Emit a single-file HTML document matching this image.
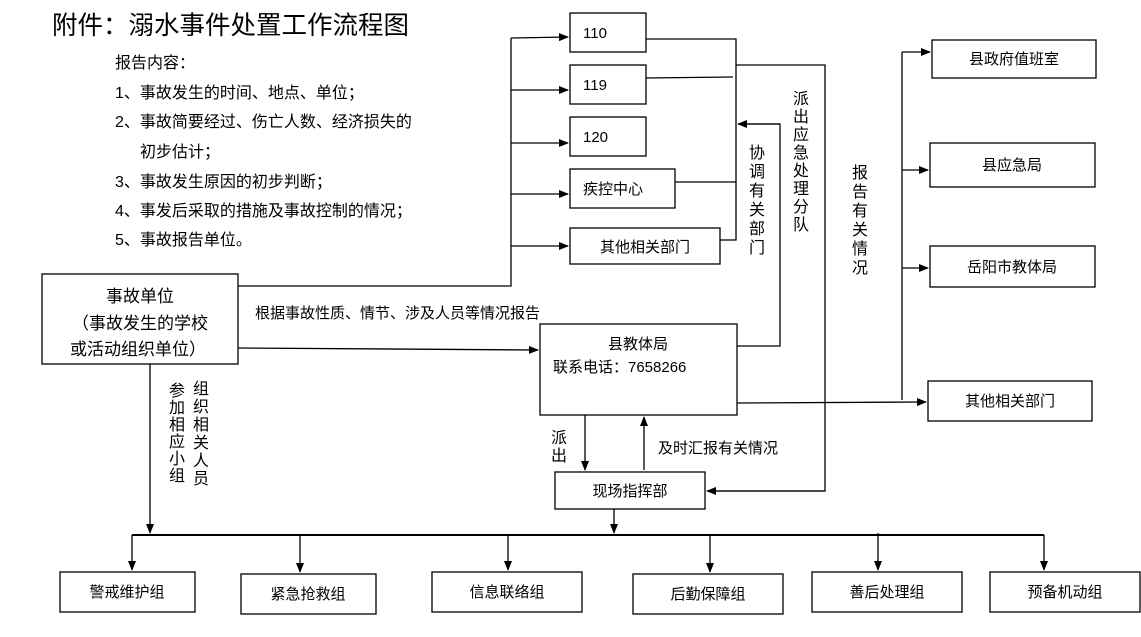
<!DOCTYPE html>
<html><head><meta charset="utf-8"><style>
body{margin:0;background:#fff}
svg{display:block}
text{font-family:"Liberation Sans","Noto Sans CJK SC",sans-serif;fill:#000}
</style></head><body>
<svg width="1141" height="637" viewBox="0 0 1141 637" xmlns="http://www.w3.org/2000/svg">
<defs><marker id="a" markerWidth="10" markerHeight="8" refX="9" refY="4" orient="auto" markerUnits="userSpaceOnUse"><path d="M0,0 L10,4 L0,8 z" fill="#000"/></marker></defs>
<g fill="none" stroke="#000" stroke-width="1.3">
<rect x="42" y="274" width="196" height="90"/>
<rect x="570" y="13" width="76" height="39"/>
<rect x="570" y="65" width="76" height="39"/>
<rect x="570" y="117" width="76" height="39"/>
<rect x="570" y="169" width="105" height="39"/>
<rect x="570" y="228" width="150" height="36"/>
<rect x="540" y="324" width="197" height="91"/>
<rect x="555" y="472" width="150" height="37"/>
<rect x="932" y="40" width="164" height="38"/>
<rect x="930" y="143" width="165" height="44"/>
<rect x="930" y="246" width="165" height="41"/>
<rect x="928" y="381" width="164" height="40"/>
<rect x="60" y="572" width="135" height="40"/>
<rect x="241" y="574" width="135" height="40"/>
<rect x="432" y="572" width="150" height="40"/>
<rect x="633" y="574" width="150" height="40"/>
<rect x="812" y="572" width="150" height="40"/>
<rect x="990" y="572" width="150" height="40"/>
<path d="M238,286 H511 V38"/>
<path d="M511,38 L568,37" marker-end="url(#a)"/>
<path d="M511,90 H568" marker-end="url(#a)"/>
<path d="M511,143 H568" marker-end="url(#a)"/>
<path d="M511,194 H568" marker-end="url(#a)"/>
<path d="M511,246 H568" marker-end="url(#a)"/>
<path d="M646,39 H736 V240 H720"/>
<path d="M646,78 L733,77"/>
<path d="M675,182 H736"/>
<path d="M737,346 H780 V124 H738" />
<path d="M780,124 H738" marker-end="url(#a)"/>
<path d="M736,65 H825 V491 H707" />
<path d="M825,491 H707" marker-end="url(#a)"/>
<path d="M238,348 L538,350" marker-end="url(#a)"/>
<path d="M737,403 L926,402" marker-end="url(#a)"/>
<path d="M902,400 V52"/>
<path d="M902,52 H930" marker-end="url(#a)"/>
<path d="M902,170 H928" marker-end="url(#a)"/>
<path d="M902,268 H928" marker-end="url(#a)"/>
<path d="M585,415 V470" marker-end="url(#a)"/>
<path d="M644,470 V417" marker-end="url(#a)"/>
<path d="M614,509 V533" marker-end="url(#a)"/>
<path d="M150,364 V533" marker-end="url(#a)"/>
<path d="M132,535 H1044" stroke-width="2"/>
<path d="M132,535 V570" marker-end="url(#a)"/>
<path d="M300,535 V572" marker-end="url(#a)"/>
<path d="M508,535 V570" marker-end="url(#a)"/>
<path d="M710,535 V572" marker-end="url(#a)"/>
<path d="M878,533 V570" marker-end="url(#a)"/>
<path d="M1044,535 V570" marker-end="url(#a)"/>
</g>
<g font-size="15">
<text x="52" y="34" font-size="25.5">附件：溺水事件处置工作流程图</text>
<g font-size="16">
<text x="115" y="68">报告内容：</text>
<text x="115" y="98">1、事故发生的时间、地点、单位；</text>
<text x="115" y="127">2、事故简要经过、伤亡人数、经济损失的</text>
<text x="140" y="157">初步估计；</text>
<text x="115" y="187">3、事故发生原因的初步判断；</text>
<text x="115" y="216">4、事发后采取的措施及事故控制的情况；</text>
<text x="115" y="245">5、事故报告单位。</text>
</g>
<text x="140" y="302" font-size="17" text-anchor="middle">事故单位</text>
<text x="140" y="329" font-size="17" text-anchor="middle">（事故发生的学校</text>
<text x="138" y="355" font-size="17" text-anchor="middle">或活动组织单位）</text>
<text x="255" y="318">根据事故性质、情节、涉及人员等情况报告</text>
<text x="583" y="38">110</text>
<text x="583" y="90">119</text>
<text x="583" y="142">120</text>
<text x="583" y="194">疾控中心</text>
<text x="645" y="252" text-anchor="middle">其他相关部门</text>
<text x="638" y="349" text-anchor="middle">县教体局</text>
<text x="553" y="372">联系电话：7658266</text>
<text x="630" y="496" text-anchor="middle">现场指挥部</text>
<text x="658" y="453">及时汇报有关情况</text>
<text x="1014" y="64" text-anchor="middle">县政府值班室</text>
<text x="1012" y="170" text-anchor="middle">县应急局</text>
<text x="1012" y="272" text-anchor="middle">岳阳市教体局</text>
<text x="1010" y="406" text-anchor="middle">其他相关部门</text>
<text x="127" y="597" text-anchor="middle">警戒维护组</text>
<text x="308" y="599" text-anchor="middle">紧急抢救组</text>
<text x="507" y="597" text-anchor="middle">信息联络组</text>
<text x="708" y="599" text-anchor="middle">后勤保障组</text>
<text x="887" y="597" text-anchor="middle">善后处理组</text>
<text x="1065" y="597" text-anchor="middle">预备机动组</text>
</g>
<g font-size="16" text-anchor="middle">
<text x="757" y="158">协</text><text x="757" y="177">调</text><text x="757" y="196">有</text><text x="757" y="215">关</text><text x="757" y="234">部</text><text x="757" y="253">门</text>
<text x="801" y="104">派</text><text x="801" y="122">出</text><text x="801" y="140">应</text><text x="801" y="158">急</text><text x="801" y="176">处</text><text x="801" y="194">理</text><text x="801" y="212">分</text><text x="801" y="230">队</text>
<text x="860" y="178">报</text><text x="860" y="197">告</text><text x="860" y="216">有</text><text x="860" y="235">关</text><text x="860" y="254">情</text><text x="860" y="273">况</text>
<text x="559" y="443">派</text><text x="559" y="461">出</text>
<text x="177" y="396">参</text><text x="177" y="413">加</text><text x="177" y="430">相</text><text x="177" y="447">应</text><text x="177" y="464">小</text><text x="177" y="481">组</text>
<text x="201" y="394">组</text><text x="201" y="412">织</text><text x="201" y="430">相</text><text x="201" y="448">关</text><text x="201" y="466">人</text><text x="201" y="484">员</text>
</g>
</svg>
</body></html>
